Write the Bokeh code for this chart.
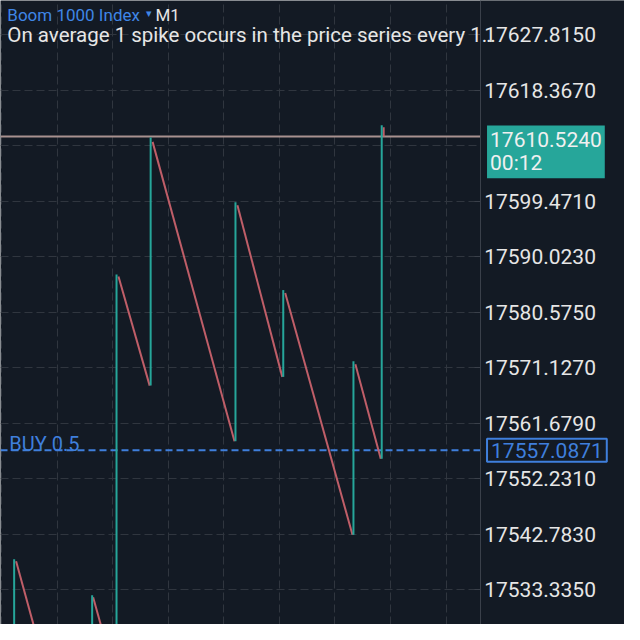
from bokeh.plotting import figure
from bokeh.models import FixedTicker, Label, PrintfTickFormatter, Range1d, BoxAnnotation
from bokeh.embed import file_html
from bokeh.resources import INLINE

# ---- data (bar index = minute, price) ----
spike_x = [14, 94, 119, 154, 241, 290, 362, 391]
spike_low = [17524.09, 17524.09, 17517.45, 17568.09, 17558.62, 17569.58, 17542.68, 17555.64]
spike_high = [17538.53, 17532.39, 17587.02, 17610.35, 17599.31, 17584.36, 17572.24, 17612.42]

drop_x0 = [16, 95, 121, 156, 243, 292, 364, 393]
drop_y0 = [17538.20, 17532.06, 17586.69, 17609.60, 17598.81, 17583.86, 17571.74, 17612.09]
drop_x1 = [36, 105, 153, 240, 289, 361, 390, 393]
drop_y1 = [17526.08, 17526.08, 17568.09, 17558.62, 17569.58, 17542.68, 17555.64, 17610.524]

price_ticks = [17533.335, 17542.783, 17552.231, 17561.679, 17571.127,
               17580.575, 17590.023, 17599.471, 17608.919, 17618.367, 17627.815]
label_ticks = [17533.335, 17542.783, 17552.231, 17561.679, 17571.127,
               17580.575, 17590.023, 17599.471, 17618.367, 17627.815]
time_grid = [1, 58, 115, 172, 229, 286, 343, 400, 457]

current_price = 17610.524
current_timer = "00:12"
buy_price = 17557.0871
buy_label = "BUY 0.5"
symbol = "Boom 1000 Index"
timeframe = "M1"
note = "On average 1 spike occurs in the price series every 1\u2026"

# ---- layout / style ----
X_START, X_END = 0, 640          # visible bar span incl. price-scale area
AXIS_X = 492                     # bar position of price scale
Y_LOW, Y_HIGH = 17527.41, 17633.676

BG = "#131a24"
GREEN = "#26a69a"
RED = "#bf5e68"
BLUE = "#3f7fdc"
TEXT = "#e6e6e6"
FONT = "Roboto"

p = figure(width=624, height=624, output_backend="svg", toolbar_location=None,
           x_range=Range1d(X_START, X_END), y_range=Range1d(Y_LOW, Y_HIGH),
           y_axis_location="right", min_border_left=0, min_border_top=0,
           min_border_bottom=0, min_border_right=0)
p.background_fill_color = BG
p.border_fill_color = BG
p.outline_line_color = None
p.xaxis.visible = False

p.xgrid.ticker = FixedTicker(ticks=time_grid)
p.ygrid.ticker = FixedTicker(ticks=price_ticks)
for g in (p.xgrid, p.ygrid):
    g.grid_line_color = "#30363f"
    g.grid_line_dash = "8 4"
    g.grid_line_width = 1

# blank price-scale area (hides grid there)
p.add_layout(BoxAnnotation(left=AXIS_X, fill_color=BG, fill_alpha=1,
                           line_color=None, level="underlay"))

ax = p.yaxis[0]
ax.fixed_location = AXIS_X
ax.ticker = FixedTicker(ticks=label_ticks)
ax.formatter = PrintfTickFormatter(format="%.4f")
ax.major_label_text_font = FONT
ax.major_label_text_font_size = "21px"
ax.major_label_text_color = TEXT
ax.major_label_standoff = 4
ax.major_tick_out = 0
ax.major_tick_in = 6
ax.major_tick_line_color = "#3a404a"
ax.minor_tick_line_color = None
ax.axis_line_color = "#3a404a"
ax.axis_line_width = 1

# current price line and buy line (up to the price scale)
p.segment(x0=[X_START], x1=[AXIS_X], y0=[current_price], y1=[current_price],
          line_color="#a8918f", line_width=2)
p.segment(x0=[X_START], x1=[AXIS_X], y0=[buy_price], y1=[buy_price],
          line_color=BLUE, line_width=2, line_dash="7 4")

# candles
p.segment(x0=drop_x0, y0=drop_y0, x1=drop_x1, y1=drop_y1,
          line_color=RED, line_width=2)
p.segment(x0=spike_x, y0=spike_low, x1=spike_x, y1=spike_high,
          line_color=GREEN, line_width=2)

# header texts
p.add_layout(Label(x=7, y=17631.2, text=symbol, text_color="#3f86e6",
                   text_font=FONT, text_font_size="17px", text_baseline="alphabetic"))
p.add_layout(Label(x=149, y=17631.5, text="\u25be", text_color="#3f86e6",
                   text_font=FONT, text_font_size="11px", text_baseline="alphabetic"))
p.add_layout(Label(x=159, y=17631.2, text=timeframe, text_color=TEXT,
                   text_font=FONT, text_font_size="17px", text_baseline="alphabetic"))
p.add_layout(Label(x=7, y=17627.865, text=note, text_color=TEXT,
                   text_font=FONT, text_font_size="20.5px", text_baseline="alphabetic"))

# buy label
p.add_layout(Label(x=9, y=17558.13, text=buy_label, text_color=BLUE,
                   text_font=FONT, text_font_size="20px", text_baseline="alphabetic"))

# price boxes on the price scale
p.add_layout(Label(x=499, y=buy_price, text="%.4f" % buy_price,
                   text_color=BLUE, level="overlay",
                   text_font=FONT, text_font_size="21px", text_baseline="middle",
                   background_fill_color=BG, border_line_color=BLUE,
                   border_line_width=2, padding=4))
p.add_layout(Label(x=499, y=current_price, text="%.4f\n%s" % (current_price, current_timer),
                   text_color="#f0f0f0", text_font=FONT, text_font_size="21px",
                   text_line_height=0.95,
                   level="overlay", text_baseline="top", y_offset=11,
                   background_fill_color=GREEN, padding=3))

open("out.html", "w").write(file_html(p, INLINE))
